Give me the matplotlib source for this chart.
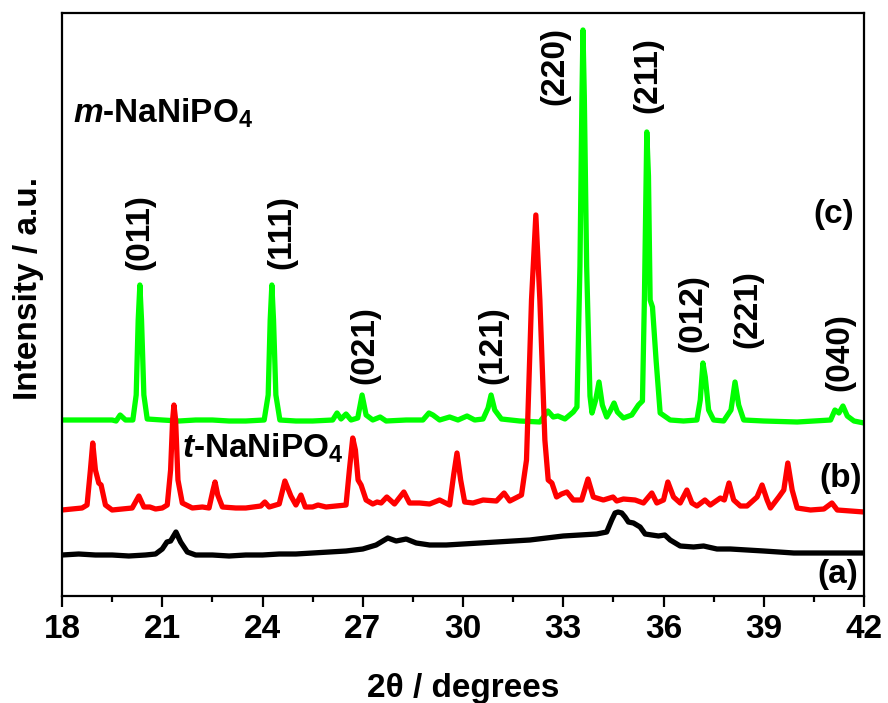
import matplotlib
matplotlib.use("Agg")
import matplotlib.pyplot as plt
from matplotlib.ticker import MultipleLocator

plt.rcParams['font.family'] = ['Liberation Sans', 'DejaVu Sans']
plt.rcParams['font.weight'] = 'bold'
plt.rcParams['mathtext.fontset'] = 'custom'
plt.rcParams['mathtext.rm'] = 'Liberation Sans:bold'
plt.rcParams['mathtext.bf'] = 'Liberation Sans:bold'
plt.rcParams['mathtext.it'] = 'Liberation Sans:bold:italic'

# (a) amorphous precursor
two_theta_a = [18.0, 18.5, 19.0, 19.5, 20.0, 20.5, 20.8, 21.0, 21.14, 21.25, 21.41, 21.55, 21.75,
               22.0, 22.5, 23.0, 23.5, 24.0, 24.5, 25.0, 25.5, 26.0, 26.5, 27.0, 27.4, 27.75,
               28.0, 28.3, 28.6, 29.0, 29.5, 30.0, 30.5, 31.0, 31.5, 32.0, 32.5, 33.0, 33.5,
               34.0, 34.3, 34.45, 34.55, 34.64, 34.75, 34.85, 34.95, 35.1, 35.3, 35.45, 35.65,
               35.85, 36.04, 36.2, 36.5, 36.9, 37.2, 37.6, 38.0, 38.5, 39.0, 39.9, 41.0, 42.0]
intensity_a = [41, 42, 41, 41, 40, 41, 42, 47, 54, 55, 64, 54, 44,
               41, 41, 40, 41, 41, 42, 42, 43, 44, 45, 47, 51, 58,
               55, 57, 53, 51, 51, 52, 53, 54, 55, 56, 58, 60, 61,
               62, 64, 76, 83, 84, 83, 79, 74, 73, 69, 62, 61,
               60, 61, 56, 50, 49, 50, 47, 47, 46, 45, 43, 43, 43]

# (b) t-NaNiPO4
two_theta_b = [18.0, 18.3, 18.6, 18.75, 18.85, 18.92, 19.0, 19.1, 19.17, 19.3, 19.5, 19.8, 20.1,
               20.3, 20.45, 20.63, 20.8, 21.0, 21.15, 21.25, 21.31, 21.35, 21.4, 21.47, 21.6,
               21.9, 22.2, 22.4, 22.52, 22.58, 22.66, 22.8, 23.2, 23.5, 23.95, 24.07, 24.2,
               24.5, 24.67, 24.85, 25.0, 25.15, 25.28, 25.5, 25.66, 25.9, 26.2, 26.5, 26.6,
               26.7, 26.78, 26.86, 26.95, 27.1, 27.3, 27.43, 27.55, 27.72, 27.95, 28.23, 28.4,
               28.7, 29.0, 29.3, 29.6, 29.72, 29.82, 29.93, 30.05, 30.3, 30.6, 31.0, 31.23,
               31.4, 31.75, 31.9, 32.05, 32.18, 32.3, 32.45, 32.55, 32.66, 32.8, 32.95, 33.11,
               33.3, 33.55, 33.74, 33.9, 34.2, 34.49, 34.6, 34.8, 35.15, 35.4, 35.65, 35.8,
               36.0, 36.13, 36.3, 36.5, 36.7, 36.85, 37.0, 37.24, 37.4, 37.7, 37.82, 37.96,
               38.1, 38.3, 38.5, 38.8, 38.95, 39.1, 39.2, 39.45, 39.6, 39.72, 39.85, 40.0,
               40.4, 40.8, 41.04, 41.2, 41.6, 42.0]
intensity_b = [86, 87, 88, 91, 126, 153, 126, 113, 111, 91, 86, 87, 88,
               100, 89, 89, 87, 88, 91, 126, 176, 191, 176, 116, 93,
               88, 89, 88, 106, 114, 101, 89, 88, 88, 90, 94, 89,
               92, 115, 100, 91, 101, 89, 89, 91, 89, 90, 91, 126,
               158, 146, 116, 111, 96, 92, 94, 93, 99, 92, 104, 93,
               93, 92, 96, 91, 121, 143, 116, 94, 93, 96, 95, 103,
               95, 101, 136, 296, 381, 296, 156, 116, 113, 99, 102, 104,
               96, 96, 117, 99, 96, 99, 95, 97, 96, 93, 103, 93,
               96, 114, 99, 93, 106, 93, 90, 96, 91, 98, 96, 113,
               96, 90, 90, 99, 111, 96, 88, 99, 106, 133, 106, 88,
               86, 87, 93, 86, 85, 84]

# (c) m-NaNiPO4
two_theta_c = [18.0, 19.5, 19.62, 19.74, 19.9, 20.12, 20.22, 20.28, 20.33, 20.38, 20.45, 20.55,
               21.0, 21.5, 22.0, 22.5, 23.0, 23.5, 24.05, 24.17, 24.23, 24.28, 24.33, 24.4,
               24.52, 25.0, 25.5, 26.1, 26.23, 26.35, 26.5, 26.65, 26.85, 26.98, 27.1, 27.3,
               27.52, 27.7, 28.3, 28.8, 28.98, 29.1, 29.3, 29.6, 29.85, 30.12, 30.35, 30.6,
               30.75, 30.84, 30.95, 31.15, 31.7, 32.3, 32.54, 32.7, 32.84, 33.05, 33.3, 33.41,
               33.5, 33.56, 33.59, 33.63, 33.7, 33.8, 33.86, 33.97, 34.07, 34.17, 34.3, 34.42,
               34.52, 34.62, 34.8, 35.05, 35.25, 35.37, 35.43, 35.5, 35.55, 35.6, 35.67, 35.78,
               35.9, 36.2, 36.6, 37.0, 37.1, 37.18, 37.25, 37.35, 37.5, 37.8, 38.02, 38.14,
               38.25, 38.4, 39.0, 40.0, 41.0, 41.13, 41.25, 41.37, 41.5, 41.7, 42.0]
intensity_c = [176, 176, 175, 181, 176, 176, 201, 276, 311, 276, 201, 177,
               176, 175, 176, 176, 175, 175, 176, 201, 276, 311, 276, 201,
               176, 175, 175, 176, 183, 177, 182, 176, 178, 201, 181, 176,
               179, 175, 176, 176, 183, 181, 176, 179, 176, 180, 176, 177,
               188, 201, 186, 177, 175, 174, 185, 179, 180, 177, 184, 189,
               330, 500, 566, 500, 330, 200, 183, 196, 214, 191, 179, 186,
               193, 184, 178, 181, 191, 195, 300, 464, 420, 296, 289, 235,
               183, 176, 175, 176, 196, 233, 219, 186, 176, 175, 186, 214,
               191, 176, 175, 174, 176, 186, 183, 190, 180, 175, 173]

# hkl labels of the m-phase: text, x (deg), y (a.u.)
hkl_labels = ["(011)", "(111)", "(021)", "(121)", "(220)", "(211)", "(012)", "(221)", "(040)"]
hkl_x = [20.33, 24.58, 27.07, 30.9, 32.75, 35.53, 36.88, 38.53, 41.28]
hkl_y = [364, 364, 251, 251, 530, 521, 283, 287, 244]

fig = plt.figure(figsize=(8.88, 7.03), dpi=100)
ax = fig.add_axes([62 / 888, 107 / 703, 802 / 888, 583 / 703])

ax.plot(two_theta_a, intensity_a, color='black', lw=3.8, solid_joinstyle='round')
ax.plot(two_theta_c, intensity_c, color='#00ff00', lw=3.8, solid_joinstyle='round')
ax.plot(two_theta_b, intensity_b, color='#ff0000', lw=3.8, solid_joinstyle='round')

for lab, x, y in zip(hkl_labels, hkl_x, hkl_y):
    ax.text(x, y, lab, rotation=90, ha='center', va='center', fontsize=24, fontweight='bold')

ax.text(41.1, 382, "(c)", ha='center', va='center', fontsize=24, fontweight='bold')
ax.text(41.31, 118, "(b)", ha='center', va='center', fontsize=24, fontweight='bold')
ax.text(41.22, 22, "(a)", ha='center', va='center', fontsize=24, fontweight='bold')

ax.text(18.33, 473, r"$\mathit{m}$-NaNiPO$_{4}$", fontsize=24, fontweight='bold', va='baseline')
ax.text(21.59, 138, r"$\mathit{t}$-NaNiPO$_{4}$", fontsize=24, fontweight='bold', va='baseline')

ax.set_xlim(18, 42)
ax.set_ylim(0, 583)
ax.xaxis.set_major_locator(MultipleLocator(3))
ax.xaxis.set_minor_locator(MultipleLocator(1.5))
ax.set_yticks([])
ax.tick_params(axis='x', which='major', direction='out', length=8, width=1.6, labelsize=24, pad=5)
ax.tick_params(axis='x', which='minor', direction='out', length=4.5, width=1.6)
for sp in ax.spines.values():
    sp.set_linewidth(1.6)

ax.set_xlabel("2θ / degrees", fontsize=24, fontweight='bold', labelpad=20)
ax.set_ylabel("Intensity / a.u.", fontsize=24, fontweight='bold')
ax.yaxis.set_label_coords(-0.022, 0.527)

fig.savefig("out.png", dpi=100)
